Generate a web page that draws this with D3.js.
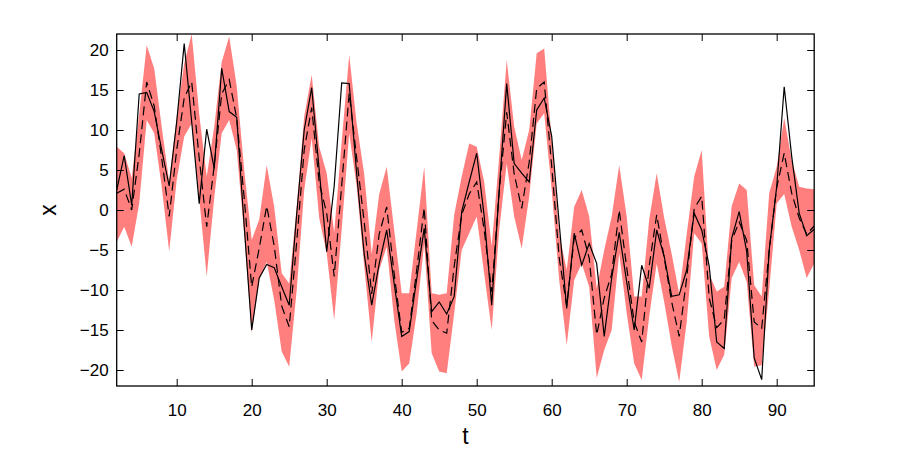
<!DOCTYPE html>
<html>
<head>
<meta charset="utf-8">
<script src="https://cdn.jsdelivr.net/npm/d3@7"></script>
<style>
  html, body { margin: 0; padding: 0; background: #fff; }
  svg { display: block; font-family: "Liberation Sans", Arial, sans-serif; }
</style>
</head>
<body>
<svg id="chart" width="897" height="449"></svg>
<script>
const tStart = 2;
const solidX = [2.5,6.8,0.6,14.5,14.7,12.3,7.5,3,11,20.8,11,0.8,10.1,5.2,17.7,12.3,11.6,-2,-15,-8.5,-6.8,-7.2,-9.6,-11.9,-0.5,10,15.3,5,-5.2,3,15.9,15.8,4.5,-5.5,-11.9,-6.7,-2.5,-9.2,-15.8,-15.2,-8.6,-2.3,-12.7,-11.5,-13,-10.8,-0.2,3.5,7.1,-0.8,-11.9,2.5,15.8,5.8,4.6,3.5,12.5,14,9.2,-1.7,-12.3,-2.9,-6.9,-4.2,-6.7,-15.8,-8.5,-2.8,-9,-15,-6.9,-9.8,-2.5,-5.8,-10.8,-10.6,-7.5,-0.4,-2.5,-7,-16.5,-17.3,-3.5,-0.2,-5.2,-18.5,-21.2,-5,2.9,15.4,6.7,-0.4,-3.2,-2.4];
const dashedX = [2.1,2.6,0,7,16,13,6.5,-0.8,7.5,14,16,6.5,-2.1,5.5,14.5,16.3,11.5,1.5,-9.6,-4.8,0.5,-4.5,-12,-14.6,-4,7.5,12.8,3.4,-0.4,-8.3,3.1,14.6,6.5,-1.5,-10.5,-3,0.4,-8,-15.3,-14.8,-7.5,0.3,-13.8,-15,-15.4,-7,-0.6,2,3.5,-2.5,-10.2,2.3,12.2,4.5,0.2,6,15.2,16,5.5,-6,-12,-3.5,-2.5,-6,-15.6,-11,-8,0,-7.2,-14,-16.5,-7,-0.6,-6,-11.5,-15.8,-8.5,0.2,1.7,-11,-14.7,-13.7,-3.8,-1.5,-3.8,-14,-14.8,-5,2.8,7.1,2.1,-1,-3,-2];
const upperX = [7.9,7.1,4,12,20.6,17.7,10.4,3.5,11.7,18.3,22,12,4.2,10.4,18.5,21.7,15.5,5,-3.75,-1.2,5.6,0.4,-7.9,-9.2,0.4,11.7,16.9,7.9,4.6,-2.8,8.6,19.4,10.8,4.5,-5.5,2,5.4,-2.5,-10.4,-10.4,-2.5,5.4,-10.4,-10.6,-10.4,-0.6,4.2,8.3,7.9,3.5,-4.5,6.7,18.75,10.4,6.25,10,19.6,20.2,8.75,-3,-7.5,0.4,2.5,-0.8,-9.8,-5,-0.8,5.6,-0.8,-10.8,-10.8,-1.2,4.6,-1,-5.5,-10.5,-3,4.2,7.5,-8,-10.2,-9.6,0.5,3.3,2.5,-9.4,-10.8,2.1,5.4,11.5,6.25,2.9,2.7,2.6];
const lowerX = [-4,-2.1,-4.6,0.8,11.25,9.6,2.9,-5.2,3.75,9.2,10.8,1.5,-8.3,1.5,9.6,11.25,7.5,-3,-15.4,-8.75,-6.5,-11.25,-17.7,-19.6,-10,2.5,9,-1,-5.4,-13.75,-2.4,9.6,2.9,-7,-16.5,-7.5,-4.6,-13.75,-20.2,-19.2,-12.9,-4.2,-17.9,-20.2,-20.4,-12.9,-5,-2.9,-0.8,-8,-15,-2.5,5.8,-0.8,-4.8,1.7,10.8,12.1,2.5,-8.75,-16.9,-8.75,-6.7,-9.6,-21,-17.5,-15,-5.4,-12.9,-19.2,-21.25,-13.3,-6.7,-11.5,-17,-21.5,-14,-2.9,-4.2,-15.8,-20,-18.1,-8.5,-6.5,-9,-19.6,-19.4,-10,0.8,2,-2.1,-5,-8.5,-6.7];
const xTicks = [10,20,30,40,50,60,70,80,90];
const yTicks = [-20,-15,-10,-5,0,5,10,15,20];
const xDomain = [2, 95];
const yDomain = [-22, 22];

const data = solidX.map((v, i) => ({
  t: tStart + i, solid: v, dashed: dashedX[i], upper: upperX[i], lower: lowerX[i]
}));

const svg = d3.select("#chart");
const pL = 116.7, pR = 814.2, pT = 34, pB = 386;
const x = d3.scaleLinear().domain(xDomain).range([pL, pR]);
const y = d3.scaleLinear().domain(yDomain).range([pB, pT]);

svg.append("defs").append("clipPath").attr("id", "clip")
  .append("rect").attr("x", pL).attr("y", pT)
  .attr("width", pR - pL).attr("height", pB - pT);

const plot = svg.append("g").attr("clip-path", "url(#clip)");

plot.append("path").datum(data)
  .attr("fill", "#ff7f7f").attr("stroke", "none")
  .attr("d", d3.area().x(d => x(d.t)).y0(d => y(d.lower)).y1(d => y(d.upper)));

plot.append("path").datum(data)
  .attr("fill", "none").attr("stroke", "#000").attr("stroke-width", 1.2)
  .attr("stroke-dasharray", "9,5")
  .attr("d", d3.line().x(d => x(d.t)).y(d => y(d.dashed)));

plot.append("path").datum(data)
  .attr("fill", "none").attr("stroke", "#000").attr("stroke-width", 1.2)
  .attr("d", d3.line().x(d => x(d.t)).y(d => y(d.solid)));

const tickLen = 7;
const fmt = d => d3.format("d")(d);

const gB = svg.append("g").attr("transform", `translate(0,${pB})`)
  .call(d3.axisBottom(x).tickValues(xTicks).tickSizeInner(-tickLen).tickSizeOuter(0).tickPadding(18).tickFormat(fmt));
const gT = svg.append("g").attr("transform", `translate(0,${pT})`)
  .call(d3.axisTop(x).tickValues(xTicks).tickSizeInner(-tickLen).tickSizeOuter(0).tickFormat(""));
const gL = svg.append("g").attr("transform", `translate(${pL},0)`)
  .call(d3.axisLeft(y).tickValues(yTicks).tickSizeInner(-tickLen).tickSizeOuter(0).tickPadding(8).tickFormat(fmt));
const gR = svg.append("g").attr("transform", `translate(${pR},0)`)
  .call(d3.axisRight(y).tickValues(yTicks).tickSizeInner(-tickLen).tickSizeOuter(0).tickFormat(""));

[gB, gT, gL, gR].forEach(g => {
  g.select(".domain").remove();
  g.selectAll(".tick line").attr("stroke", "#000").attr("stroke-width", 1);
  g.selectAll(".tick text").attr("font-size", 17).attr("fill", "#000")
    .attr("font-family", "'Liberation Sans', Arial, sans-serif");
});

svg.append("rect").attr("x", pL).attr("y", pT)
  .attr("width", pR - pL).attr("height", pB - pT)
  .attr("fill", "none").attr("stroke", "#000").attr("stroke-width", 1.3);

svg.append("text").attr("x", (pL + pR) / 2).attr("y", 444)
  .attr("text-anchor", "middle").attr("font-size", 23).text("t");
svg.append("text").attr("x", 48).attr("y", y(0))
  .attr("text-anchor", "middle").attr("font-size", 23)
  .attr("transform", `rotate(-90,48,${y(0)})`).attr("dy", "0.35em").text("x");
</script>
</body>
</html>
